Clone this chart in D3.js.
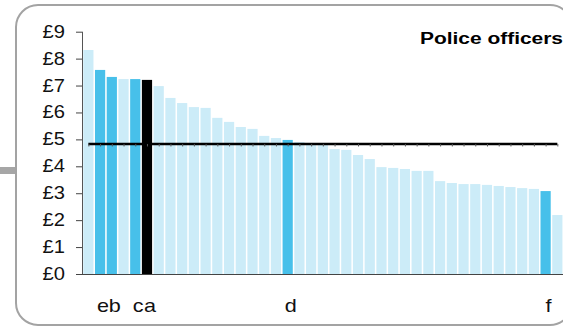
<!DOCTYPE html>
<html><head><meta charset="utf-8">
<script src="https://cdn.jsdelivr.net/npm/d3@7"></script>
<style>html,body{margin:0;padding:0;background:#fff;}svg{display:block;font-family:"Liberation Sans",Arial,sans-serif;}</style>
</head><body>
<svg id="c" width="563" height="328"></svg>
<script>
const title = "Police officers";
const values = [8.32,7.58,7.32,7.24,7.24,7.21,6.98,6.54,6.35,6.20,
                6.17,5.80,5.65,5.46,5.39,5.13,5.05,4.98,4.90,4.81,
                4.79,4.64,4.61,4.42,4.27,3.97,3.94,3.90,3.83,3.83,
                3.45,3.38,3.34,3.34,3.31,3.27,3.23,3.19,3.16,3.08,2.19];
const labels = ["","e","b","","c","a","","","","",
                "","","","","","","","d","","",
                "","","","","","","","","","",
                "","","","","","","","","","f",""];
const highlighted = ["e","b","c","d","f"];
const benchmark = "a";
const average = 4.83;
const yTicks = [0,1,2,3,4,5,6,7,8,9];
const yTickLabels = ["£0","£1","£2","£3","£4","£5","£6","£7","£8","£9"];
const categories = values.map((v,i)=>i);

const svg = d3.select("#c");
// frame
svg.append("rect").attr("x",16).attr("y",5).attr("width",556).attr("height",320)
  .attr("rx",22).attr("ry",22).attr("fill","#fff").attr("stroke","#a3a3a3").attr("stroke-width",2);
svg.append("rect").attr("x",0).attr("y",167).attr("width",15).attr("height",7).attr("fill","#a6a6a6");

const x = d3.scaleBand().domain(categories).range([82.5,563.2]).paddingInner(0.13).paddingOuter(0.065);
const y = d3.scaleLinear().domain([0,9]).range([274,31.7]);

const colorOf = i => labels[i]===benchmark ? "#000" : (highlighted.includes(labels[i]) ? "#47c0ea" : "#ccecf8");

svg.append("g").selectAll("rect").data(values).join("rect")
  .attr("x",(d,i)=>x(categories[i])).attr("width",x.bandwidth())
  .attr("y",d=>y(d)).attr("height",d=>y(0)-y(d))
  .attr("fill",(d,i)=>colorOf(i));

// axes
const yAxis = svg.append("g").attr("transform","translate(82,0)")
  .call(d3.axisLeft(y).tickValues(yTicks).tickSize(6).tickFormat(""));
yAxis.select(".domain").attr("stroke","#555").attr("d","M0.5,"+y(9)+"V"+y(0));
yAxis.selectAll(".tick line").attr("stroke","#444").attr("x1",-6).attr("x2",0);
svg.append("g").selectAll("text").data(yTicks).join("text")
  .attr("transform",d=>`translate(65,${y(d)+6}) scale(1.12,1)`)
  .attr("text-anchor","end").attr("font-size",18).attr("fill","#111")
  .text((d,i)=>yTickLabels[i]);

svg.append("line").attr("x1",82).attr("x2",563).attr("y1",y(0)+0.5).attr("y2",y(0)+0.5)
  .attr("stroke","#444").attr("stroke-width",1);

// average line
const cx = i => x(categories[i]) + x.bandwidth()/2;
const line = d3.line().x(d=>cx(d)).y(()=>y(average));
svg.append("path").datum([0, categories.length-1]).attr("d",line)
  .attr("stroke","#000").attr("stroke-width",2.6).attr("fill","none");
svg.append("g").selectAll("line").data(categories).join("line")
  .attr("x1",(d,i)=>cx(i)+0.5).attr("x2",(d,i)=>cx(i)+0.5)
  .attr("y1",y(average)).attr("y2",y(average)+2.5)
  .attr("stroke","#555").attr("stroke-width",1);

// x labels
svg.append("g").selectAll("text").data(categories.filter(i=>labels[i]!=="")).join("text")
  .attr("transform",i=>`translate(${cx(i)+3},311.5) scale(1.2,1)`)
  .attr("text-anchor","middle").attr("font-size",18).attr("fill","#111")
  .text(i=>labels[i]);

// title
svg.append("text").attr("x",420).attr("y",44).attr("font-size",16).attr("font-weight","bold")
  .attr("fill","#000").attr("textLength",143).attr("lengthAdjust","spacingAndGlyphs").text(title);
</script>
</body></html>
